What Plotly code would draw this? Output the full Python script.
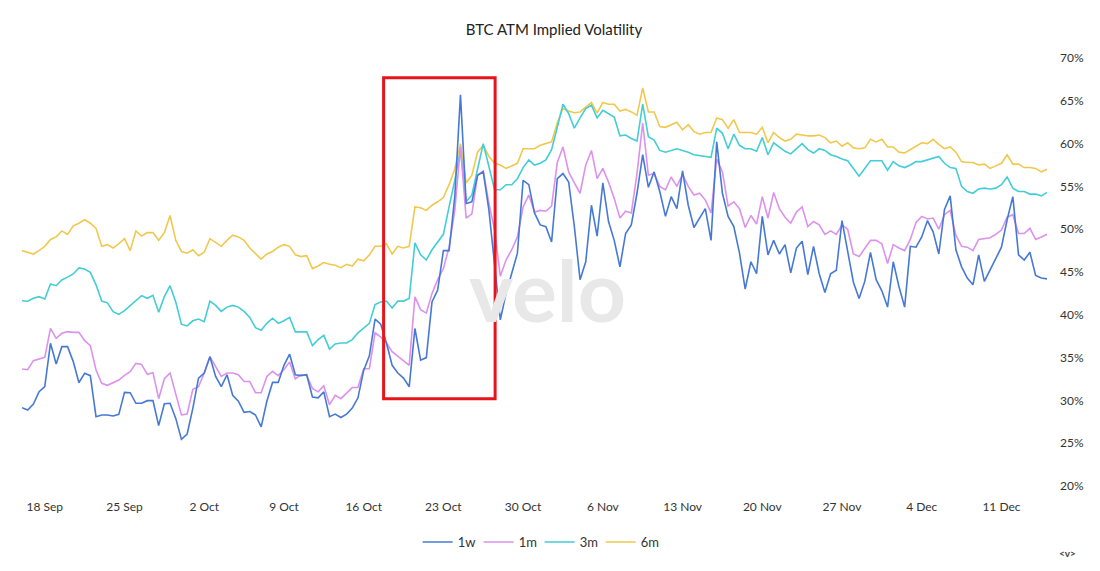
import pandas as pd
import plotly.graph_objects as go

# 12-hourly ATM implied vol readings, 16 Sep -> 15 Dec
start = "2023-09-16"

vol_1w = [29.15, 28.88, 29.58, 31.02, 31.6, 36.67, 34.25, 36.28, 36.28, 34.53, 32.07, 33.16, 32.89, 28.1, 28.3, 28.3,
          28.18, 28.37, 30.94, 30.9, 29.66, 29.66, 29.97, 29.97, 27.05, 29.6, 29.66, 27.9, 25.45, 26.07, 29.07, 32.6,
          33.2, 35.1, 32.8, 31.6, 33.0, 30.6, 29.9, 28.6, 28.7, 28.3, 26.9, 29.9, 32.1, 32.1, 34.1, 35.4,
          33.0, 32.9, 33.0, 30.4, 30.3, 31.0, 28.1, 28.4, 28.0, 28.4, 29.1, 30.3, 33.5, 35.2, 39.5, 38.9,
          36.7, 34.1, 33.2, 32.6, 31.6, 38.4, 34.7, 35.0, 41.5, 42.9, 47.5, 47.5, 53.8, 65.7, 53.0, 53.2,
          56.3, 56.7, 52.2, 45.6, 39.4, 42.5, 44.8, 47.2, 55.7, 55.2, 51.9, 50.5, 50.3, 48.5, 55.9,
          56.5, 55.5, 50.3, 44.1, 46.2, 52.8, 49.2, 55.4, 50.9, 48.7, 45.6, 49.5, 50.5, 54.2, 58.7, 54.9,
          56.7, 54.4, 51.5, 53.8, 52.4, 56.8, 52.8, 50.2, 51.3, 52.4, 48.7, 60.2, 54.2, 51.5, 50.3,
          47.2, 43.0, 46.2, 44.8, 51.5, 47.0, 48.7, 47.1, 48.2, 44.9, 47.8, 48.6, 44.7, 48.0, 44.8, 42.6,
          44.8, 45.2, 51.0, 47.4, 43.8, 41.9, 43.9, 47.3, 44.1, 42.8, 40.9, 46.2, 43.3, 40.9, 48.0, 47.9,
          49.1, 51.0, 49.7, 47.1, 52.3, 53.9, 47.6, 45.6, 44.3, 43.5, 47.0, 43.9, 45.2, 46.6, 47.9, 51.1,
          53.8, 47.0, 46.4, 47.3, 44.6, 44.3, 44.2]

vol_1m = [33.67, 33.59, 34.64, 34.8, 35.03, 38.42, 37.25, 37.84, 38.03, 37.95, 37.95, 36.98, 36.4, 33.55, 32.0, 31.76,
          32.07, 32.38, 32.93, 33.36, 34.33, 34.21, 33.05, 33.24, 30.2, 32.54, 33.2, 30.83, 28.3, 28.4, 31.3, 31.6,
          33.2, 35.1, 33.9, 32.8, 33.2, 33.2, 33.0, 32.2, 32.2, 30.9, 30.9, 32.8, 33.4, 32.9, 33.6, 34.5,
          32.5, 33.0, 32.9, 31.4, 31.0, 31.7, 29.5, 30.6, 30.2, 30.8, 31.5, 31.5, 33.7, 33.7, 37.9, 37.4,
          36.7, 35.7, 35.2, 34.7, 34.1, 42.1, 40.6, 40.2, 42.5, 44.1, 45.4, 47.9, 52.2, 59.6, 51.3, 51.8,
          56.3, 56.8, 53.0, 49.9, 44.5, 46.4, 47.6, 49.1, 52.6, 54.0, 52.0, 52.2, 52.1, 52.7, 57.8,
          59.6, 56.7, 55.4, 54.2, 57.5, 59.2, 55.9, 57.1, 55.5, 53.6, 51.3, 52.1, 51.9, 56.5, 62.4, 56.3,
          56.5, 55.0, 54.6, 56.1, 55.0, 56.4, 55.0, 54.0, 54.2, 53.4, 51.9, 58.2, 56.7, 52.7, 53.2,
          52.4, 50.2, 51.6, 50.6, 53.8, 51.3, 54.3, 52.4, 51.4, 50.7, 52.0, 52.6, 50.3, 50.9, 50.5, 49.4,
          49.8, 49.4, 50.5, 50.0, 47.1, 46.8, 47.8, 48.7, 48.7, 48.3, 46.0, 48.2, 47.8, 47.5, 48.8, 50.8,
          51.5, 51.2, 51.3, 50.0, 51.7, 52.2, 49.3, 48.0, 47.9, 47.5, 48.8, 48.9, 49.0, 49.4, 49.9, 51.4,
          51.7, 49.5, 49.5, 50.1, 48.8, 49.1, 49.4]

vol_3m = [41.65, 41.58, 41.93, 42.12, 41.85, 43.6, 43.4, 44.07, 44.4, 44.77, 45.47, 45.35, 44.96, 43.5, 41.6, 41.4,
          40.37, 40.05, 40.48, 41.03, 41.58, 42.24, 41.93, 42.28, 40.29, 42.12, 43.4, 41.5, 38.9, 38.7, 39.3, 39.5,
          39.2, 41.6, 41.1, 40.4, 40.9, 41.1, 40.9, 40.4, 39.7, 38.5, 38.2, 39.0, 39.6, 39.0, 39.3, 39.7,
          38.0, 38.0, 38.0, 36.4, 37.1, 37.6, 36.0, 36.6, 36.7, 36.7, 37.1, 37.9, 38.5, 39.0, 41.2, 41.5,
          41.6, 40.8, 41.6, 41.6, 41.9, 48.4, 47.0, 46.4, 47.6, 48.5, 49.4, 52.6, 55.7, 59.3, 53.2, 54.0,
          56.9, 60.0, 57.3, 54.6, 54.6, 55.2, 55.2, 55.9, 57.2, 58.1, 57.5, 57.7, 58.1, 59.3, 61.9,
          64.6, 63.5, 61.8, 63.0, 64.1, 64.5, 63.0, 63.9, 63.5, 63.1, 60.9, 61.0, 60.6, 60.3, 64.6, 60.8,
          60.4, 59.2, 59.0, 59.2, 59.4, 59.2, 59.0, 58.7, 58.6, 58.5, 58.4, 61.8, 61.2, 59.4, 61.1,
          59.8, 59.4, 59.4, 59.1, 60.7, 58.7, 60.1, 59.6, 59.1, 58.8, 59.4, 60.0, 59.3, 58.9, 59.4, 59.2,
          58.7, 58.5, 58.2, 58.0, 57.1, 56.2, 57.1, 58.0, 58.0, 58.0, 56.9, 57.9, 57.4, 57.2, 57.5, 57.9,
          57.9, 58.1, 58.3, 58.5, 57.7, 57.2, 57.1, 55.0, 54.4, 54.2, 54.7, 54.8, 54.7, 54.8, 55.2, 56.1,
          54.8, 54.4, 54.4, 54.1, 54.1, 53.9, 54.3]

vol_6m = [47.5, 47.3, 47.1, 47.5, 48.0, 48.8, 49.1, 49.8, 49.4, 50.4, 50.7, 51.1, 50.7, 50.1, 48.0, 48.2,
          47.8, 48.3, 48.9, 47.5, 49.8, 49.2, 49.6, 49.6, 48.7, 49.6, 51.6, 48.7, 47.4, 47.2, 47.6, 46.9,
          47.3, 48.9, 48.5, 48.0, 48.7, 49.3, 49.1, 48.7, 47.8, 47.1, 46.5, 47.1, 47.4, 47.9, 48.2, 48.0,
          47.0, 46.8, 46.9, 45.4, 45.7, 46.1, 45.9, 45.8, 45.5, 45.9, 45.7, 46.5, 46.3, 47.0, 48.0, 48.0,
          48.3, 47.1, 48.0, 47.8, 48.0, 52.6, 52.5, 52.2, 52.8, 53.2, 53.7, 55.2, 57.0, 60.0, 55.4, 56.3,
          59.0, 59.8, 58.5, 57.7, 57.5, 57.1, 57.4, 57.7, 59.4, 59.4, 59.4, 59.8, 60.0, 60.2, 62.4,
          64.1, 63.8, 63.6, 63.7, 64.3, 64.8, 63.6, 64.8, 64.6, 64.6, 63.8, 64.0, 63.7, 63.3, 66.5, 63.7,
          63.7, 62.0, 61.9, 62.2, 62.5, 61.6, 62.2, 61.4, 61.1, 61.3, 61.3, 63.0, 62.8, 61.8, 62.8,
          61.3, 61.3, 61.3, 61.1, 61.9, 60.1, 61.3, 60.7, 60.3, 60.5, 61.1, 61.0, 60.9, 60.9, 61.0, 60.7,
          60.1, 60.3, 59.7, 60.1, 59.5, 59.4, 59.5, 60.5, 60.2, 60.5, 59.6, 59.6, 59.0, 58.9, 59.3, 59.6,
          60.1, 60.0, 60.5, 59.9, 59.4, 59.6, 59.0, 57.9, 57.8, 57.8, 57.5, 57.6, 57.1, 57.4, 57.7, 58.7,
          57.6, 57.6, 57.2, 57.2, 57.1, 56.7, 57.0]

names = ["1w", "1m", "3m", "6m"]
colors = ["#4679d6", "#dc92ec", "#43cdd6", "#f1c84e"]
y_ticks = [20, 25, 30, 35, 40, 45, 50, 55, 60, 65, 70]

# highlighted window (red box)
box_x = ["2023-10-17 18:00", "2023-10-27 13:00"]
box_y = [30.2, 67.7]

dates = pd.date_range(start, periods=len(vol_1w), freq="12h")
series = [vol_1w, vol_1m, vol_3m, vol_6m]

fig = go.Figure()
# add longest tenor first so 1w sits on top, legend reversed back
for name, vals, col in reversed(list(zip(names, series, colors))):
    fig.add_trace(go.Scatter(x=dates, y=vals, mode="lines", name=name,
                             line=dict(color=col, width=1.6)))

font_fam = "Lato, Inter, sans-serif"

# page has an 8px body margin, so the figure is sized to fit the window
fig.update_layout(
    width=1092, height=563,
    plot_bgcolor="white", paper_bgcolor="white",
    margin=dict(l=14, r=53, t=50, b=85),
    font=dict(family=font_fam, size=12, color="#333333"),
    title=dict(text="BTC ATM Implied Volatility", x=0.5, xref="container",
               y=1 - 22 / 563, yanchor="middle",
               font=dict(family=font_fam, size=15, color="#222222")),
    xaxis=dict(
        range=[dates[0], dates[-1]],
        showgrid=False, zeroline=False, showline=False,
        tick0="2023-09-18", dtick=7 * 24 * 3600 * 1000,
        tickformat="%-d %b", ticks="", ticklabelstandoff=12,
        tickfont=dict(size=12, color="#333333"),
    ),
    yaxis=dict(
        side="right", range=[20, 70],
        tickvals=y_ticks, ticktext=[f"{v}%" for v in y_ticks],
        showgrid=False, zeroline=False, showline=False,
        ticks="", ticklabelstandoff=12,
        tickfont=dict(size=12, color="#333333"),
    ),
    legend=dict(orientation="h", x=0.505, xanchor="center",
                y=-0.131, yanchor="middle", traceorder="reversed",
                font=dict(size=13, color="#333333"), itemwidth=30,
                entrywidth=16, entrywidthmode="pixels"),
    shapes=[dict(type="rect", xref="x", yref="y",
                 x0=box_x[0], x1=box_x[1], y0=box_y[0], y1=box_y[1],
                 line=dict(color="#e8141c", width=3), layer="above")],
    annotations=[
        dict(text="<b>velo</b>", xref="paper", yref="paper", x=0.513, y=0.458,
             showarrow=False, font=dict(family=font_fam, size=84, color="#e8e8e8")),
        dict(text="<b>&lt;v&gt;</b>", xref="paper", yref="paper", x=1.02, y=-0.175,
             xanchor="center", showarrow=False, font=dict(size=10, color="#444444")),
    ],
)

fig.write_html("out.html")
